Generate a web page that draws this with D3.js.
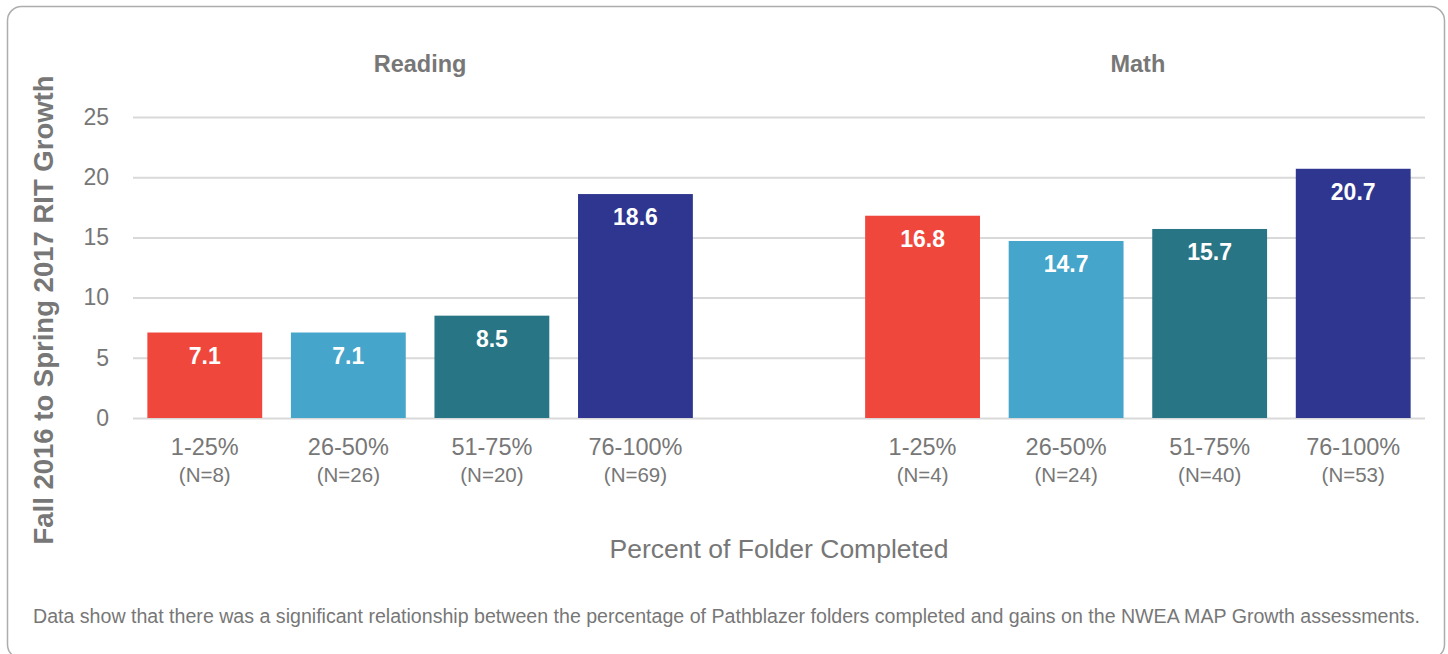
<!DOCTYPE html>
<html>
<head>
<meta charset="utf-8">
<script src="https://cdn.jsdelivr.net/npm/d3@7"></script>
<style>
  html, body { margin: 0; padding: 0; background: #fff; }
  svg { display: block; font-family: "Liberation Sans", Arial, sans-serif; }
</style>
</head>
<body>
<div id="chart"></div>
<script>
// data
const subjects = ['Reading', 'Math'];
const bins = ['1-25%', '26-50%', '51-75%', '76-100%'];
const readingValues = [7.1, 7.1, 8.5, 18.6];
const mathValues = [16.8, 14.7, 15.7, 20.7];
const readingCounts = ['(N=8)', '(N=26)', '(N=20)', '(N=69)'];
const mathCounts = ['(N=4)', '(N=24)', '(N=40)', '(N=53)'];
const binColors = ['#F0473C', '#45A5CA', '#287685', '#2E3690'];
const yTicks = [0, 5, 10, 15, 20, 25];
const yTitle = 'Fall 2016 to Spring 2017 RIT Growth';
const xTitle = 'Percent of Folder Completed';
const footnote = 'Data show that there was a significant relationship between the percentage of Pathblazer folders completed and gains on the NWEA MAP Growth assessments.';

const width = 1448;
const height = 654;
const margin = { top: 117, right: 23, bottom: 236, left: 133 };
const textGray = '#777777';

// rows: one per bar, with a blank slot between subjects
const rows = [];
subjects.forEach((s, si) => {
    const vals = si === 0 ? readingValues : mathValues;
    const counts = si === 0 ? readingCounts : mathCounts;
    bins.forEach((b, bi) => {
        rows.push({ key: `${s}|${b}`, subject: s, bin: b, value: vals[bi], n: counts[bi], color: binColors[bi] });
    });
});
const slots = [...rows.slice(0, 4).map(d => d.key), 'gap', ...rows.slice(4).map(d => d.key)];

const svg = d3.select('#chart').append('svg')
    .attr('width', width)
    .attr('height', height);

// rounded frame (bottom edge runs just past the picture)
svg.append('rect')
    .attr('x', 7.5).attr('y', 6.5)
    .attr('width', 1437).attr('height', 652)
    .attr('rx', 14)
    .attr('fill', '#fff')
    .attr('stroke', '#ADADAD')
    .attr('stroke-width', 1.5);

const x = d3.scaleBand()
    .domain(slots)
    .range([margin.left, width - margin.right])
    .paddingInner(0.2)
    .paddingOuter(0.1);

const y = d3.scaleLinear()
    .domain([0, 25])
    .range([height - margin.bottom, margin.top]);

// gridlines
svg.append('g')
    .attr('transform', `translate(${margin.left},0)`)
    .call(d3.axisLeft(y).tickValues(yTicks).tickSize(-(width - margin.left - margin.right)).tickFormat(''))
    .call(g => g.select('.domain').remove())
    .call(g => g.selectAll('line').attr('stroke', '#D9D9D9').attr('stroke-width', 2));

// y tick labels
svg.append('g')
    .attr('transform', `translate(${margin.left - 21},0)`)
    .call(d3.axisLeft(y).tickValues(yTicks).tickSize(0))
    .call(g => g.select('.domain').remove())
    .call(g => g.selectAll('text')
        .attr('font-size', 23)
        .attr('font-family', '"Liberation Sans", Arial, sans-serif')
        .attr('fill', textGray));

// bars
svg.append('g').selectAll('rect')
    .data(rows)
    .join('rect')
    .attr('x', d => x(d.key))
    .attr('y', d => y(d.value))
    .attr('width', x.bandwidth())
    .attr('height', d => y(0) - y(d.value))
    .attr('fill', d => d.color);

// value labels
svg.append('g').selectAll('text')
    .data(rows)
    .join('text')
    .attr('x', d => x(d.key) + x.bandwidth() / 2)
    .attr('y', d => y(d.value) + 31)
    .attr('text-anchor', 'middle')
    .attr('font-size', 23)
    .attr('font-weight', 'bold')
    .attr('fill', '#fff')
    .text(d => d.value.toFixed(1));

// category labels
const cat = svg.append('g').selectAll('g')
    .data(rows)
    .join('g')
    .attr('transform', d => `translate(${x(d.key) + x.bandwidth() / 2},0)`);
cat.append('text')
    .attr('y', 455)
    .attr('text-anchor', 'middle')
    .attr('font-size', 23.5)
    .attr('fill', textGray)
    .text(d => d.bin);
cat.append('text')
    .attr('y', 482)
    .attr('text-anchor', 'middle')
    .attr('font-size', 20.5)
    .attr('fill', textGray)
    .text(d => d.n);

// subject headers
svg.append('g').selectAll('text')
    .data(subjects)
    .join('text')
    .attr('x', s => {
        const keys = rows.filter(d => d.subject === s).map(d => d.key);
        return (x(keys[0]) + x(keys[keys.length - 1]) + x.bandwidth()) / 2;
    })
    .attr('y', 72)
    .attr('text-anchor', 'middle')
    .attr('font-size', 23.5)
    .attr('font-weight', 'bold')
    .attr('fill', textGray)
    .text(s => s);

// axis titles
svg.append('text')
    .attr('transform', `translate(53,${(75 + 545) / 2}) rotate(-90)`)
    .attr('text-anchor', 'middle')
    .attr('font-size', 27.5)
    .attr('font-weight', 'bold')
    .attr('fill', textGray)
    .text(yTitle);

svg.append('text')
    .attr('x', x('gap') + x.bandwidth() / 2)
    .attr('y', 558)
    .attr('text-anchor', 'middle')
    .attr('font-size', 26.5)
    .attr('fill', textGray)
    .text(xTitle);

svg.append('text')
    .attr('x', 33)
    .attr('y', 623)
    .attr('font-family', '"Liberation Sans Narrow", "Liberation Sans", sans-serif')
    .attr('font-size', 20)
    .attr('textLength', 1387)
    .attr('lengthAdjust', 'spacingAndGlyphs')
    .attr('fill', textGray)
    .text(footnote);
</script>
</body>
</html>
